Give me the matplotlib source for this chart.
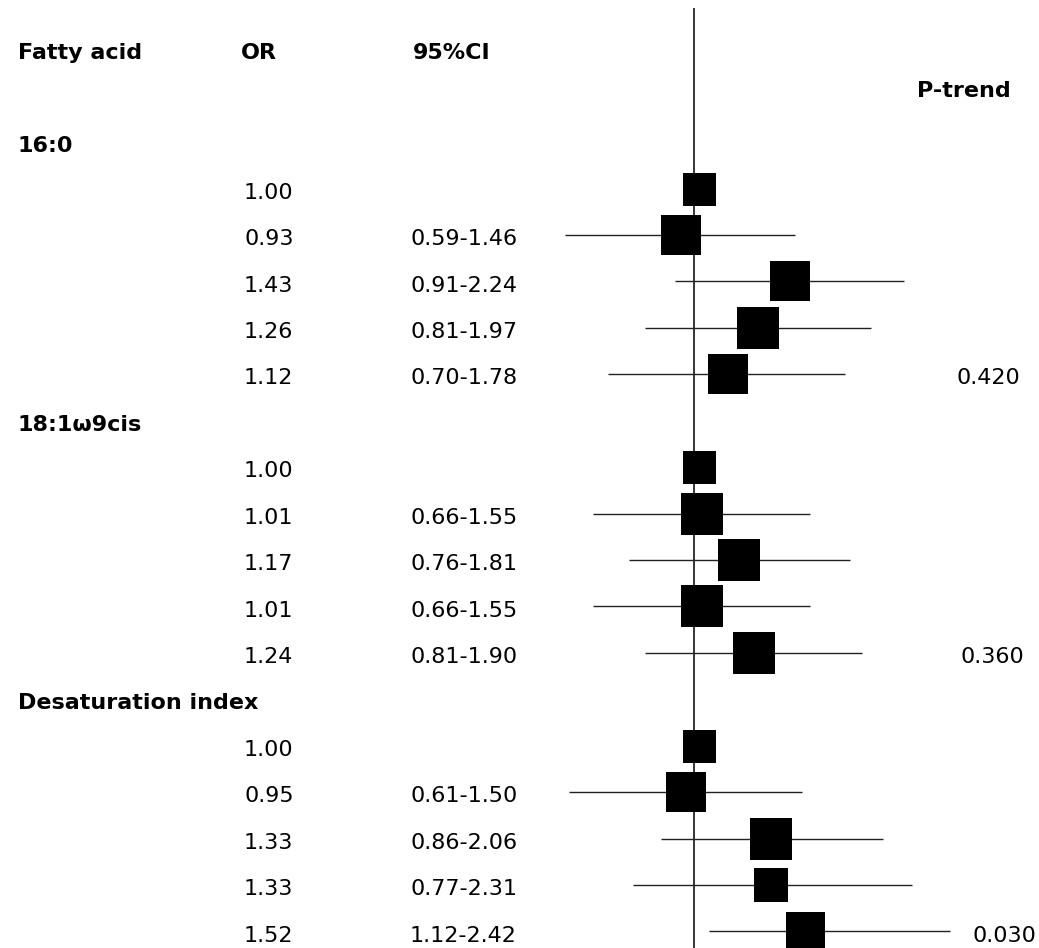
import numpy as np
import matplotlib
matplotlib.use("Agg")
import matplotlib.pyplot as plt
from matplotlib import transforms

# ---- data ----
groups = ["16:0", "18:1\u03c99cis", "Desaturation index"]
or_values = [1.00, 0.93, 1.43, 1.26, 1.12,
             1.00, 1.01, 1.17, 1.01, 1.24,
             1.00, 0.95, 1.33, 1.33, 1.52]
ci_low = [None, 0.59, 0.91, 0.81, 0.70,
          None, 0.66, 0.76, 0.66, 0.81,
          None, 0.60, 0.86, 0.77, 1.04]
ci_high = [None, 1.46, 2.24, 1.97, 1.78,
           None, 1.55, 1.81, 1.55, 1.90,
           None, 1.50, 2.06, 2.31, 2.69]
or_labels = ["1.00", "0.93", "1.43", "1.26", "1.12",
             "1.00", "1.01", "1.17", "1.01", "1.24",
             "1.00", "0.95", "1.33", "1.33", "1.52"]
ci_labels = ["", "0.59-1.46", "0.91-2.24", "0.81-1.97", "0.70-1.78",
             "", "0.66-1.55", "0.76-1.81", "0.66-1.55", "0.81-1.90",
             "", "0.61-1.50", "0.86-2.06", "0.77-2.31", "1.12-2.42"]
p_trend = ["0.420", "0.360", "0.030"]
box_px = [33, 40, 40, 42, 40,
          33, 42, 42, 42, 42,
          33, 40, 42, 34, 39]

# ---- layout ----
W, H = 1039, 948
fig = plt.figure(figsize=(W / 100, H / 100), dpi=100)
ax = fig.add_axes([0, 0, 1, 1])
ax.set_xscale("log")
px_per_ln = 254.0
x_ref_px = 699.0
ax.set_xlim(np.exp(-x_ref_px / px_per_ln), np.exp((W - x_ref_px) / px_per_ln))
row0_px, row_px = 142.1, 46.43
ax.set_ylim((H - row0_px) / row_px, -row0_px / row_px)
ax.axis("off")

# rows: group header then 5 items each
rows = []
k = 0
item = 0
for g in groups:
    rows.append(("group", g, k)); k += 1
    for _ in range(5):
        rows.append(("item", item, k)); k += 1; item += 1

ytr = ax.get_yaxis_transform()
fs = 16
toff = 0.09
X_GROUP, X_OR, X_CI = 18, 244, 410
p_x = [957, 960, 973]

# column headers
ax.text(X_GROUP / W, -2 + toff, "Fatty acid", transform=ytr, fontsize=fs,
        fontweight="bold", va="center", ha="left")
ax.text(259 / W, -2 + toff, "OR", transform=ytr, fontsize=fs,
        fontweight="bold", va="center", ha="center")
ax.text(413 / W, -2 + toff, "95%CI", transform=ytr, fontsize=fs,
        fontweight="bold", va="center", ha="left")
ax.text(917 / W, -1.2 + toff, "P-trend", transform=ytr, fontsize=fs,
        fontweight="bold", va="center", ha="left")

# reference line (drawn slightly left of 1, as in the original)
off = transforms.offset_copy(ax.transData, fig=fig, x=-5.5, y=0, units="dots")
ax.plot([1, 1], [(8 - row0_px) / row_px, (H - row0_px) / row_px + 1],
        color="black", lw=1.1, transform=off, solid_capstyle="butt", zorder=1)

gi = 0
for kind, val, y in rows:
    if kind == "group":
        ax.text(X_GROUP / W, y + toff, val, transform=ytr, fontsize=fs,
                fontweight="bold", va="center", ha="left")
        continue
    i = val
    ax.text(X_OR / W, y + toff, or_labels[i], transform=ytr, fontsize=fs,
            va="center", ha="left")
    if ci_labels[i]:
        ax.text(X_CI / W, y + toff, ci_labels[i], transform=ytr, fontsize=fs,
                va="center", ha="left")
    if ci_low[i] is not None:
        ax.plot([ci_low[i], ci_high[i]], [y, y], color="#222222", lw=1.0,
                solid_capstyle="butt", zorder=2)
    ax.plot([or_values[i]], [y], marker="s", color="black",
            markersize=box_px[i] * 72 / 100, markeredgewidth=0, zorder=3)
    if i % 5 == 4:
        ax.text(p_x[gi] / W, y + toff, p_trend[gi], transform=ytr,
                fontsize=fs, va="center", ha="left")
        gi += 1

fig.savefig("out.png", dpi=100)
